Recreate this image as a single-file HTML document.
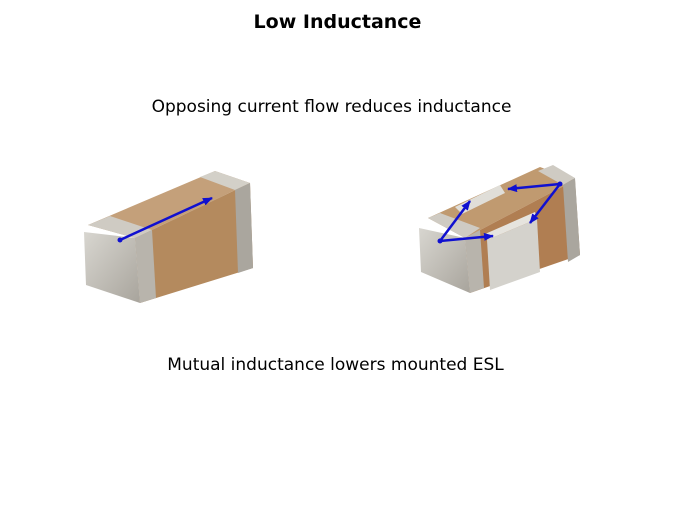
<!DOCTYPE html>
<html><head><style>
body{margin:0;width:675px;height:506px;background:#fff;font-family:"DejaVu Sans",sans-serif;position:relative;overflow:hidden}
.t{position:absolute;left:0;width:675px;text-align:center;color:#000}
</style></head><body>
<div class="t" style="top:11px;font-size:19px;font-weight:bold;">Low Inductance</div>
<div class="t" style="top:97px;font-size:17px;left:-6px;">Opposing current flow reduces inductance</div>
<div class="t" style="top:355px;font-size:17px;left:-2px;">Mutual inductance lowers mounted ESL</div>
<svg width="675" height="506" style="position:absolute;left:0;top:0">
<defs>
<marker id="a" markerUnits="userSpaceOnUse" markerWidth="10" markerHeight="8" refX="9" refY="4" orient="auto"><path d="M0,0L10,4L0,8z" fill="#1010d0"/></marker>
<linearGradient id="m" x1="0" y1="0" x2="1" y2="1"><stop offset="0" stop-color="#d8d6d0"/><stop offset="1" stop-color="#a8a49c"/></linearGradient>
</defs>
<!-- left chip -->
<polygon points="88,225 215,171 250,183 135,238" fill="#c4a07a"/>
<polygon points="135,238 250,183 253,268 140,303" fill="#b48a5e"/>
<polygon points="84,232 135,238 140,303 86,285" fill="url(#m)"/>
<polygon points="88,225 110,216 152,230 135,238" fill="#cfcbc3"/>
<polygon points="135,238 152,230 156,298 140,303" fill="#b8b4ac"/>
<polygon points="200,177 215,171 250,183 235,190" fill="#d3d0c8"/>
<polygon points="235,190 250,183 253,268 238,273" fill="#aaa69e"/>
<line x1="120" y1="240" x2="212" y2="198" stroke="#1010d0" stroke-width="2.5" marker-end="url(#a)"/>
<circle cx="120" cy="240" r="2.5" fill="#1010d0"/>
<!-- right chip -->
<polygon points="428,218 540,167 575,180 465,238" fill="#c09a70"/>
<polygon points="465,238 575,180 580,255 470,293" fill="#b07e52"/>
<polygon points="419,228 465,238 470,293 421,272" fill="url(#m)"/>
<polygon points="428,218 440,213 480,228 465,238" fill="#cfcbc3"/>
<polygon points="465,238 480,230 484,288 470,293" fill="#b8b4ac"/>
<polygon points="455,207 500,185 505,193 462,214" fill="#e0ded8"/>
<polygon points="487,240 537,219 540,272 490,290" fill="#d4d2cc"/>
<polygon points="485,234 535,212 537,219 487,240" fill="#e6e4de"/>
<polygon points="538,171 553,165 575,178 563,185" fill="#cfcbc3"/>
<polygon points="563,185 575,178 580,255 568,262" fill="#aaa69e"/>
<g stroke="#1010d0" stroke-width="2.5" marker-end="url(#a)">
<line x1="440" y1="241" x2="493" y2="236"/>
<line x1="440" y1="241" x2="470" y2="201"/>
<line x1="560" y1="184" x2="508" y2="189"/>
<line x1="560" y1="184" x2="530" y2="223"/>
</g>
<circle cx="440" cy="241" r="2.5" fill="#1010d0"/>
<circle cx="560" cy="184" r="2.5" fill="#1010d0"/>
</svg>
</body></html>
